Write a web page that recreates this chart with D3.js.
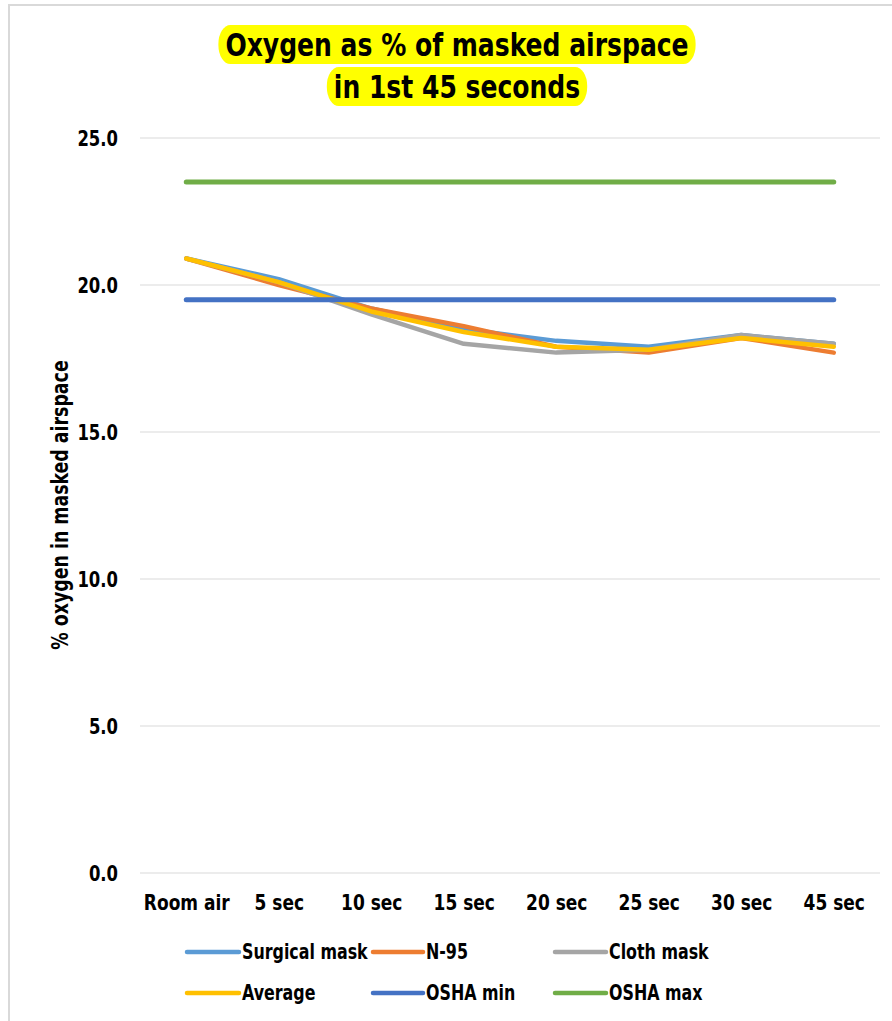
<!DOCTYPE html>
<html><head><meta charset="utf-8">
<script src="https://cdn.jsdelivr.net/npm/d3@7"></script>
<style>
html,body{margin:0;padding:0;background:#fff;}
text{font-family:"Liberation Sans Narrow","Arial Narrow","DejaVu Sans Condensed",sans-serif;font-weight:bold;fill:#000;}
</style></head>
<body>
<svg id="c" width="892" height="1021"></svg>
<script>
const categories = ["Room air","5 sec","10 sec","15 sec","20 sec","25 sec","30 sec","45 sec"];
const surgical = [20.9, 20.2, 19.2, 18.5, 18.1, 17.9, 18.3, 18.0];
const n95      = [20.9, 20.0, 19.2, 18.6, 17.9, 17.7, 18.2, 17.7];
const cloth    = [20.9, 20.1, 19.0, 18.0, 17.7, 17.8, 18.3, 18.0];
const average  = [20.9, 20.1, 19.1, 18.4, 17.9, 17.8, 18.2, 17.9];
const oshaMin  = [19.5, 19.5, 19.5, 19.5, 19.5, 19.5, 19.5, 19.5];
const oshaMax  = [23.5, 23.5, 23.5, 23.5, 23.5, 23.5, 23.5, 23.5];
const yTicks = [0, 5, 10, 15, 20, 25];
const titleLines = ["Oxygen as % of masked airspace", "in 1st 45 seconds"];
const yTitle = "% oxygen in masked airspace";

const series = [
  {name:"Surgical mask", values:surgical, color:"#5B9BD5", w:4.5},
  {name:"N-95", values:n95, color:"#ED7D31", w:4.5},
  {name:"Cloth mask", values:cloth, color:"#A5A5A5", w:4.5},
  {name:"Average", values:average, color:"#FFC000", w:4.5},
  {name:"OSHA min", values:oshaMin, color:"#4472C4", w:5},
  {name:"OSHA max", values:oshaMax, color:"#70AD47", w:5}
];

function squeeze(sel, f){
  sel.each(function(){
    const len = this.getComputedTextLength();
    d3.select(this).attr("textLength", len*f).attr("lengthAdjust","spacingAndGlyphs");
  });
}

const svg = d3.select("#c");
const L = 140, R = 880, T = 138, B = 873;

// chart border
svg.append("path").attr("d","M9,1021 V5 H892").attr("fill","none").attr("stroke","#d9d9d9").attr("stroke-width",2);

const x = d3.scalePoint().domain(categories).range([L, R]).padding(0.5);
const y = d3.scaleLinear().domain([0, 25]).range([B, T]);

// gridlines
svg.append("g").selectAll("line").data(yTicks).join("line")
  .attr("x1", L).attr("x2", R).attr("y1", d=>y(d)).attr("y2", d=>y(d))
  .attr("stroke","#d9d9d9").attr("stroke-width",1.2);

// y axis labels
const yAxis = d3.axisLeft(y).tickValues(yTicks).tickFormat(d3.format(".1f")).tickSize(0).tickPadding(0);
const ga = svg.append("g").attr("transform",`translate(118,0)`).call(yAxis);
ga.select(".domain").remove();
ga.selectAll("text").attr("font-size",21).attr("font-family",null).attr("dy","0.35em");
squeeze(ga.selectAll("text"), 0.87);

// x axis labels
const xAxis = d3.axisBottom(x).tickSize(0).tickPadding(0);
const gx = svg.append("g").attr("transform",`translate(0,903)`).call(xAxis);
gx.select(".domain").remove();
gx.selectAll("text").attr("font-size",21).attr("font-family",null).attr("dy","0.35em");
squeeze(gx.selectAll("text"), 0.9);

// lines
const line = d3.line().x((d,i)=>x(categories[i])).y(d=>y(d));
svg.append("g").selectAll("path").data(series).join("path")
  .attr("d", d=>line(d.values)).attr("fill","none")
  .attr("stroke", d=>d.color).attr("stroke-width", d=>d.w)
  .attr("stroke-linejoin","round").attr("stroke-linecap","round");

// y title
const yt = svg.append("text").attr("transform","translate(60,505) rotate(-90)")
  .attr("text-anchor","middle").attr("dy","0.35em").attr("font-size",23).text(yTitle);
squeeze(yt, 0.84);

// title with highlight
const tg = svg.append("g");
const tys = [45, 87];
titleLines.forEach((t,i)=>{
  const bg = tg.append("rect").attr("fill","#FFFF00");
  const tx = tg.append("text").attr("x",457).attr("y",tys[i]).attr("dy","0.35em")
    .attr("text-anchor","middle").attr("font-size",32).text(t);
  squeeze(tx, 0.87);
  const bb = tx.node().getBBox();
  bg.attr("x",bb.x-7).attr("y",tys[i]-20).attr("width",bb.width+14).attr("height",39)
    .attr("rx",12).attr("ry",19);
});

// legend
const legendPos = [
  {lx:187, tx:242, y:952},
  {lx:373, tx:426, y:952},
  {lx:555, tx:609, y:952},
  {lx:187, tx:242, y:993},
  {lx:373, tx:426, y:993},
  {lx:555, tx:609, y:993}
];
const lg = svg.append("g");
series.forEach((s,i)=>{
  const p = legendPos[i];
  lg.append("line").attr("x1",p.lx).attr("x2",p.tx-3).attr("y1",p.y).attr("y2",p.y)
    .attr("stroke",s.color).attr("stroke-width",4.5).attr("stroke-linecap","round");
  const t = lg.append("text").attr("x",p.tx).attr("y",p.y).attr("dy","0.35em").attr("font-size",21).text(s.name);
  squeeze(t, 0.84);
});
</script>
</body></html>
